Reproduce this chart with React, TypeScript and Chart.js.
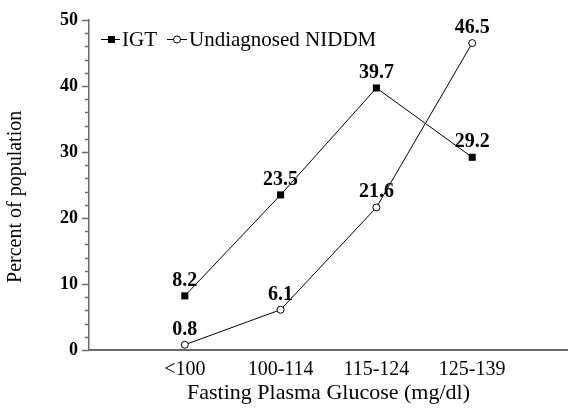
import React, { useEffect, useRef } from 'react';
import { Chart, registerables } from 'chart.js';

Chart.register(...registerables);

const categories = ['<100', '100-114', '115-124', '125-139'];
const categoryPositions = [1, 2, 3, 4];
const igtValues = [8.2, 23.5, 39.7, 29.2];
const niddmValues = [0.8, 6.1, 21.6, 46.5];
const seriesNames = ['IGT', 'Undiagnosed NIDDM'];
const yMin = 0;
const yMax = 50;
const yMajorStep = 10;
const yMinorStep = 2;
const xTitle = 'Fasting Plasma Glucose (mg/dl)';
const yTitle = 'Percent of population';

const SERIF = '"Liberation Serif", "Times New Roman", serif';
const AXIS_COLOR = '#6a6a6a';

const valueLabelPlugin = {
  id: 'valueLabels',
  afterDatasetsDraw(chart: any) {
    const ctx = chart.ctx;
    ctx.save();
    ctx.fillStyle = '#000';
    ctx.font = `bold 20px ${SERIF}`;
    ctx.textAlign = 'center';
    ctx.textBaseline = 'alphabetic';
    chart.data.datasets.forEach((ds: any, i: number) => {
      const meta = chart.getDatasetMeta(i);
      meta.data.forEach((el: any, j: number) => {
        const v = ds.data[j].y;
        ctx.fillText(v.toFixed(1), el.x, el.y - 10);
      });
    });
    ctx.restore();
  },
};

const yAxisExtrasPlugin = {
  id: 'yAxisExtras',
  afterDraw(chart: any) {
    const ctx = chart.ctx;
    const ys = chart.scales.y;
    const x0 = chart.chartArea.left;
    ctx.save();
    ctx.strokeStyle = AXIS_COLOR;
    ctx.lineWidth = 1.5;
    for (let v = yMin; v <= yMax; v += yMinorStep) {
      const y = Math.round(ys.getPixelForValue(v)) + 0.5;
      const len = v % yMajorStep === 0 ? 7 : 4;
      ctx.beginPath();
      ctx.moveTo(x0 - len, y);
      ctx.lineTo(x0, y);
      ctx.stroke();
    }
    // rotated axis title
    ctx.fillStyle = '#000';
    ctx.font = `20px ${SERIF}`;
    ctx.textAlign = 'center';
    ctx.textBaseline = 'middle';
    ctx.translate(16, ys.getPixelForValue(23.2));
    ctx.rotate(-Math.PI / 2);
    ctx.fillText(yTitle, 0, 0);
    ctx.restore();
  },
};

const legendPlugin = {
  id: 'customLegend',
  afterDraw(chart: any) {
    const ctx = chart.ctx;
    const y = 39;
    ctx.save();
    ctx.strokeStyle = '#000';
    ctx.lineWidth = 1;
    ctx.font = `21px ${SERIF}`;
    ctx.fillStyle = '#000';
    ctx.textBaseline = 'middle';
    ctx.textAlign = 'left';
    // IGT symbol
    let sx = 101;
    ctx.beginPath();
    ctx.moveTo(sx, y + 0.5);
    ctx.lineTo(sx + 19, y + 0.5);
    ctx.stroke();
    ctx.fillRect(sx + 7, y - 3, 7, 7);
    ctx.fillText(seriesNames[0], 122, y + 1);
    // NIDDM symbol
    sx = 167;
    ctx.beginPath();
    ctx.moveTo(sx, y + 0.5);
    ctx.lineTo(sx + 20, y + 0.5);
    ctx.stroke();
    ctx.beginPath();
    ctx.arc(sx + 10, y + 0.5, 3.5, 0, Math.PI * 2);
    ctx.fillStyle = '#fff';
    ctx.fill();
    ctx.stroke();
    ctx.fillStyle = '#000';
    ctx.fillText(seriesNames[1], 189, y + 1);
    ctx.restore();
  },
};

export default function App() {
  const canvasRef = useRef<HTMLCanvasElement | null>(null);

  useEffect(() => {
    if (!canvasRef.current) return;
    const toPoints = (vals: number[]) => vals.map((v, i) => ({ x: categoryPositions[i], y: v }));
    const chart = new Chart(canvasRef.current, {
      type: 'line',
      data: {
        datasets: [
          {
            label: seriesNames[0],
            data: toPoints(igtValues),
            borderColor: '#000',
            borderWidth: 1,
            backgroundColor: '#000',
            pointStyle: 'rect',
            pointRadius: 5,
            pointBorderWidth: 0,
            pointBackgroundColor: '#000',
            tension: 0,
          },
          {
            label: seriesNames[1],
            data: toPoints(niddmValues),
            borderColor: '#000',
            borderWidth: 1,
            backgroundColor: '#fff',
            pointStyle: 'circle',
            pointRadius: 3.5,
            pointBorderWidth: 1,
            pointBorderColor: '#000',
            pointBackgroundColor: '#fff',
            tension: 0,
          },
        ],
      },
      options: {
        animation: false,
        responsive: true,
        maintainAspectRatio: false,
        layout: { autoPadding: false, padding: { top: 20, right: 0, left: 0, bottom: 0 } },
        plugins: {
          legend: { display: false },
          tooltip: { enabled: false },
        },
        scales: {
          x: {
            type: 'linear',
            min: 0,
            max: 5,
            afterFit: (s: any) => {
              s.height = 61;
              s.paddingLeft = 0;
              s.paddingRight = 0;
            },
            afterBuildTicks: (s: any) => {
              s.ticks = categoryPositions.map((v) => ({ value: v }));
            },
            ticks: {
              autoSkip: false,
              maxRotation: 0,
              padding: 0,
              color: '#000',
              font: { family: SERIF, size: 20 },
              callback: (v: any) => {
                const idx = categoryPositions.indexOf(Number(v));
                return idx >= 0 ? categories[idx] : '';
              },
            },
            grid: { display: false },
            border: { display: true, color: AXIS_COLOR, width: 2 },
            title: {
              display: true,
              text: xTitle,
              color: '#000',
              font: { family: SERIF, size: 22 },
              padding: { top: 0, bottom: 5 },
            },
          },
          y: {
            min: yMin,
            max: yMax,
            afterFit: (s: any) => {
              s.width = 89;
            },
            ticks: {
              stepSize: yMajorStep,
              padding: 3,
              color: '#000',
              font: { family: SERIF, size: 18, weight: 'bold' },
            },
            grid: { display: false },
            border: { display: true, color: AXIS_COLOR, width: 1.5 },
            title: { display: false },
          },
        },
      },
      plugins: [valueLabelPlugin, yAxisExtrasPlugin, legendPlugin],
    } as any);
    return () => chart.destroy();
  }, []);

  return (
    <div style={{ position: 'absolute', left: 0, top: 0, width: 568, height: 411, background: '#fff' }}>
      <canvas ref={canvasRef} />
    </div>
  );
}
